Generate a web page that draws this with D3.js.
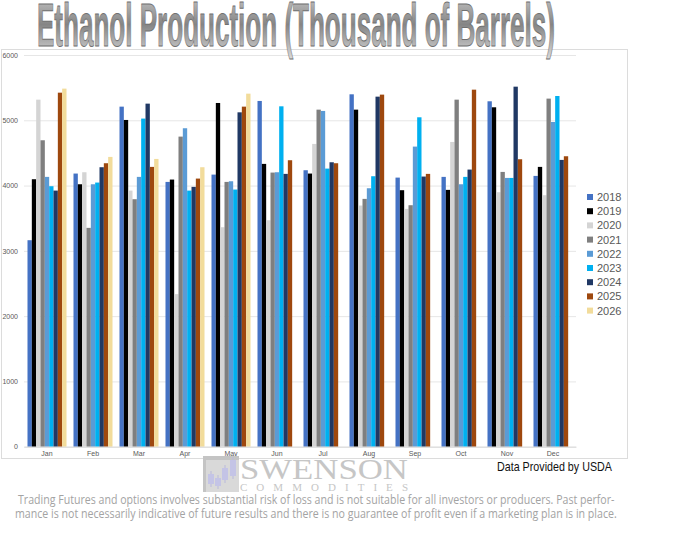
<!DOCTYPE html>
<html lang="en">
  <head>
    <meta charset="UTF-8" />
    <title>Ethanol Production</title>
    <script src="https://d3js.org/d3.v7.min.js"></script>
    <style>
      body { margin: 0; background: #fff; }
      .tick text { fill: #595959; font-family: "Liberation Sans", sans-serif; }
    </style>
  </head>
  <body>

    <svg width="680" height="537"></svg>

<script>

// months on the x axis
var months = ["Jan", "Feb", "Mar", "Apr", "May", "Jun", "Jul", "Aug", "Sep", "Oct", "Nov", "Dec"];
var years = ["2018", "2019", "2020", "2021", "2022", "2023", "2024", "2025", "2026"];
var yTicks = [0, 1000, 2000, 3000, 4000, 5000, 6000];

// values, one array per year (null = no data yet)
var v2018 = [3163, 4184, 5209, 4056, 4168, 5296, 4235, 5398, 4122, 4133, 5291, 4148];
var v2019 = [4097, 4020, 5005, 4092, 5265, 4332, 4184, 5163, 3929, 3934, 5199, 4286];
var v2020 = [5316, 4204, 3923, 2337, 3362, 3469, 4638, 3694, 3643, 4668, 3898, 3852];
var v2021 = [4694, 3352, 3791, 4750, 4056, 4199, 5163, 3796, 3699, 5316, 4209, 5332];
var v2022 = [4133, 4020, 4133, 4878, 4066, 4204, 5143, 3959, 4597, 4020, 4117, 4974];
var v2023 = [3990, 4046, 5026, 3923, 3939, 5214, 4260, 4143, 5046, 4133, 4117, 5372];
var v2024 = [3923, 4281, 5255, 3980, 5122, 4179, 4357, 5362, 4138, 4245, 5515, 4393];
var v2025 = [5423, 4342, 4286, 4107, 5209, 4388, 4342, 5393, 4179, 5469, 4403, 4449];
var v2026 = [5485, 4439, 4408, 4281, 5408, null, null, null, null, null, null, null];

var seriesValues = [v2018, v2019, v2020, v2021, v2022, v2023, v2024, v2025, v2026];
var colors = ["#4472c4", "#000000", "#d4d4d4", "#7f7f7f", "#5b9bd5", "#00b0f0", "#203864", "#9e480e", "#f2dc9b"];

var svg = d3.select("svg");

// squeeze a text horizontally so it spans the given width
function fitWidth(sel, x, y, w) {
    var len = sel.node().getComputedTextLength();
    sel.attr("transform", "translate(" + x + "," + y + ") scale(" + (w / len) + ",1)");
}

// chart area frame
svg.append("rect")
   .attr("x", 1.5).attr("y", 49.5)
   .attr("width", 626).attr("height", 409)
   .attr("fill", "#fff")
   .attr("stroke", "#dcdcdc");

var xScale = d3.scaleBand().domain(months).range([24, 576]).paddingInner(0.152).paddingOuter(0.076);
var xInner = d3.scaleBand().domain(years).range([0, xScale.bandwidth()]);
var yScale = d3.scaleLinear().domain([0, 6000]).range([446.7, 55]);

// gridlines + y labels
svg.append("g")
   .attr("transform", "translate(24,0)")
   .call(d3.axisLeft(yScale).tickValues(yTicks).tickSize(-552).tickPadding(6).tickFormat(d3.format("d")))
   .call(function(g) {
       g.select(".domain").remove();
       g.selectAll(".tick line").attr("stroke", "#e6e6e6");
       g.selectAll(".tick text").attr("font-size", "7px");
   });

// bars
var rows = [];
months.forEach(function(m, i) {
    years.forEach(function(y, j) {
        if (seriesValues[j][i] != null) rows.push({ month: m, year: y, value: seriesValues[j][i], color: colors[j] });
    });
});

svg.append("g").selectAll("rect")
   .data(rows)
   .enter().append("rect")
   .attr("x", function(d) { return xScale(d.month) + xInner(d.year); })
   .attr("y", function(d) { return yScale(d.value); })
   .attr("width", xInner.bandwidth())
   .attr("height", function(d) { return yScale(0) - yScale(d.value); })
   .attr("fill", function(d) { return d.color; });

// x axis
svg.append("g")
   .attr("transform", "translate(0," + yScale(0) + ")")
   .call(d3.axisBottom(xScale).tickSize(0).tickPadding(4))
   .call(function(g) {
       g.select(".domain").attr("stroke", "#d9d9d9");
       g.selectAll(".tick text").attr("font-size", "7px");
   });

// legend
var legend = svg.append("g").selectAll("g")
   .data(years)
   .enter().append("g")
   .attr("transform", function(d, i) { return "translate(587," + (197 + i * 14.2) + ")"; });

legend.append("rect")
   .attr("x", 0).attr("y", -3)
   .attr("width", 6).attr("height", 6)
   .attr("fill", function(d, i) { return colors[i]; });

legend.append("text")
   .attr("x", 10).attr("y", 4)
   .attr("font-family", "Liberation Sans, sans-serif")
   .attr("font-size", "11px")
   .attr("fill", "#595959")
   .text(function(d) { return d; });

// title with metallic gradient
var defs = svg.append("defs");
var grad = defs.append("linearGradient")
   .attr("id", "metal").attr("x1", 0).attr("y1", 0).attr("x2", 0).attr("y2", 1);
grad.append("stop").attr("offset", "0%").attr("stop-color", "#cfcfcf");
grad.append("stop").attr("offset", "50%").attr("stop-color", "#858585");
grad.append("stop").attr("offset", "100%").attr("stop-color", "#dadada");

var title = svg.append("text")
   .attr("font-family", "Liberation Sans, sans-serif")
   .attr("font-weight", "bold")
   .attr("font-size", "62px")
   .attr("fill", "url(#metal)")
   .attr("stroke", "#707070")
   .attr("stroke-width", 1)
   .text("Ethanol Production (Thousand of Barrels)");
fitWidth(title, 37, 46, 518);

// source note
var note = svg.append("text")
   .attr("font-family", "Liberation Sans, sans-serif")
   .attr("font-size", "13px")
   .attr("fill", "#111")
   .text("Data Provided by USDA");
fitWidth(note, 497, 471, 115);

// Swenson logo
var logo = svg.append("g");
logo.append("rect").attr("x", 203).attr("y", 456).attr("width", 36).attr("height", 36).attr("fill", "#d9d9d9");
logo.append("rect").attr("x", 203).attr("y", 456).attr("width", 36).attr("height", 4).attr("fill", "#c4c4c4");
logo.append("rect").attr("x", 203).attr("y", 456).attr("width", 3).attr("height", 36).attr("fill", "#c4c4c4");
[[208, 474, 10], [215, 478, 8], [222, 468, 12], [230, 460, 16]].forEach(function(c) {
    logo.append("line").attr("x1", c[0] + 3).attr("x2", c[0] + 3)
        .attr("y1", c[1] - 3).attr("y2", c[1] + c[2] + 3)
        .attr("stroke", "#b9b9dc").attr("stroke-width", 1);
    logo.append("rect").attr("x", c[0]).attr("y", c[1]).attr("width", 6).attr("height", c[2]).attr("fill", "#c4c4e6");
});

var sw = logo.append("text")
   .attr("font-family", "Liberation Serif, serif")
   .attr("font-size", "30px")
   .attr("fill", "#c6c6c6")
   .text("SWENSON");
fitWidth(sw, 240, 479, 168);

logo.append("text")
   .attr("x", 240).attr("y", 491)
   .attr("font-family", "Liberation Serif, serif")
   .attr("font-size", "11px")
   .attr("fill", "#c6c6c6")
   .attr("textLength", 168)
   .attr("lengthAdjust", "spacing")
   .text("COMMODITIES");

// disclaimer
var lines = [
    { text: "Trading Futures and options involves substantial risk of loss and is not suitable for all investors or producers. Past perfor-", x: 18, y: 504, w: 597 },
    { text: "mance is not necessarily indicative of future results and there is no guarantee of profit even if a marketing plan is in place.", x: 15, y: 518, w: 602 }
];
lines.forEach(function(d) {
    var t = svg.append("text")
       .attr("font-family", "Open Sans, sans-serif")
       .attr("font-size", "12px")
       .attr("fill", "#a3a3a3")
       .text(d.text);
    fitWidth(t, d.x, d.y, d.w);
});

</script>

  </body>
</html>
